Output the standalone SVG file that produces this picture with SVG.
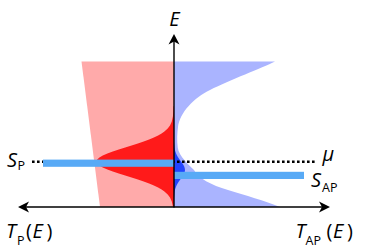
<svg xmlns="http://www.w3.org/2000/svg" width="374" height="251" viewBox="0 0 374 251">
<style>
  text { font-family: "Open Sans", "DejaVu Sans", sans-serif; fill: #000; }
  .it { font-style: italic; font-size: 20px; }
  .up { font-style: normal; font-size: 20px; }
  .sub { font-style: normal; font-size: 12.5px; }
  .axis { stroke: #000; stroke-width: 1.4; fill: none; }
  .head { fill: #000; stroke: none; }
  .bar { fill: #58aaf6; }
</style>
<g id="regions">
  <path id="pink" fill="#ffaaaa" d="M81.5,61.5 L174,61.5 L174,207 L100,207 Z"/>
  <path id="lightblue" fill="#aab4ff" d="M174,61.5 L275,61.5 C262,68 230,80 210,90 C194,98 180,112 178,127 C177.2,133 176.8,140 177.8,148 C178.8,156 190,166 194,170 C198,178 211,185 228,190 C245,195 265,201 280,207 L174,207 Z"/>
  <path id="redpeak" fill="#ff1a1a" d="M173.5,106.5 L173.3,111.5 L172.9,116.5 L171.8,121.5 L170,125.5 L167.7,128.5 L164.4,131.5 L161.6,133.5 L158.1,135.5 L153.9,137.5 L149.1,139.5 L143.7,141.5 L137.9,143.5 L131.6,145.5 L125.2,147.5 L118.8,149.5 L112.8,151.5 L107.4,153.5 L102.8,155.5 L99.4,157.5 L97.2,159.5 L96.5,161.5 L97.2,163.5 L99.4,165.5 L102.8,167.5 L107.4,169.5 L112.8,171.5 L118.8,173.5 L125.2,175.5 L131.6,177.5 L137.9,179.5 L143.7,181.5 L149.1,183.5 L153.9,185.5 L158.1,187.5 L161.6,189.5 L164.4,191.5 L167.7,194.5 L170,197.5 L171.8,201.5 L172.9,206.5 L174,207 L174,106 Z"/>
  <path id="bluepeak" fill="#2244ff" d="M174,142 L174.2,144 L174.6,148 L175.2,151 L176.3,154 L177.3,156 L178.5,158 L179.9,160 L181.4,162 L182.8,164 L184,166 L184.7,168 L185,170 L184.7,172 L184,174 L182.8,176 L181.4,178 L179.9,180 L178.5,182 L177.3,184 L176.3,186 L175.2,189 L174.6,192 L174.2,196 L174,198 Z"/>
</g>
<g id="mu-line">
  <line x1="32" y1="161.7" x2="315" y2="161.7" stroke="#000" stroke-width="2.6" stroke-dasharray="2.6 2.4"/>
</g>
<g id="SP-bar"><rect class="bar" x="43" y="159.6" width="131" height="7.2"/></g>
<g id="SAP-bar"><rect class="bar" x="174" y="171.8" width="130" height="7.2"/></g>
<g id="connectors">
  <line class="axis" x1="174" y1="207.5" x2="174" y2="40"/>
  <path class="head" d="M174,34 L168.5,44.5 L174,41.5 L179.5,44.5 Z"/>
  <line class="axis" x1="24" y1="207" x2="324" y2="207"/>
  <path class="head" d="M18,207 L29,201.5 L26,207 L29,212.5 Z"/>
  <path class="head" d="M330,207 L319,201.5 L322,207 L319,212.5 Z"/>
</g>
<g id="labels">
  <text class="it" x="174.5" y="26" text-anchor="middle">E</text>
  <text class="it" x="7" y="166.7">S</text>
  <text class="sub" x="17.5" y="170">P</text>
  <text class="it" x="311" y="186.7">S</text>
  <text class="sub" x="322" y="192">AP</text>
  <text class="it" x="322.5" y="160.5">μ</text>
  <text class="it" x="6" y="238.3">T</text>
  <text class="sub" x="17" y="244.5">P</text>
  <text class="up" x="26" y="238.3">(</text>
  <text class="it" x="32.5" y="238.3">E</text>
  <text class="up" x="46.5" y="238.3">)</text>
  <text class="it" x="295.5" y="238.3">T</text>
  <text class="sub" x="305.5" y="244.5">AP</text>
  <text class="up" x="326.5" y="238.3">(</text>
  <text class="it" x="333" y="238.3">E</text>
  <text class="up" x="347" y="238.3">)</text>
</g>
</svg>
